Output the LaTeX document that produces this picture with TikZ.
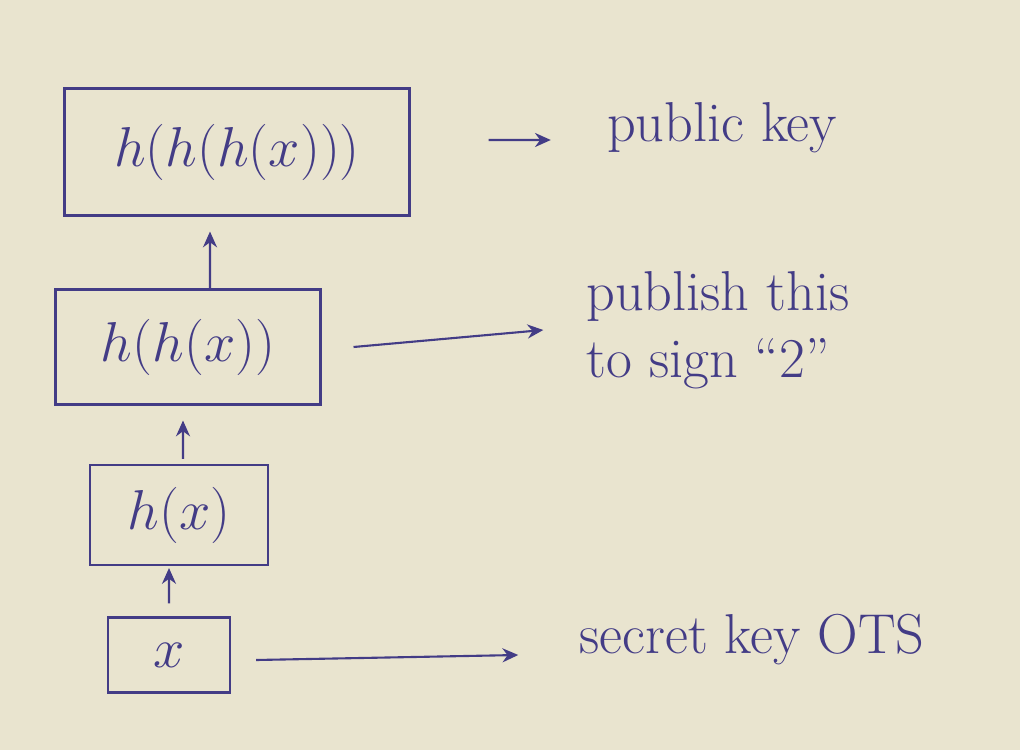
\documentclass[tikz,border=0pt]{standalone}
\usepackage{fix-cm}
\usetikzlibrary{arrows.meta}
\definecolor{paper}{HTML}{E9E4CF}
\definecolor{ink}{HTML}{433C86}
\begin{document}
\begin{tikzpicture}[x=0.02cm, y=-0.02cm,
    hashbox/.style={draw=ink, line width=1.2pt, inner sep=0pt, text=ink,
      font=\fontsize{32}{38}\selectfont},
    note/.style={text=ink, align=left, font=\fontsize{32}{38}\selectfont},
    arr/.style={draw=ink, line width=1.2pt, -{Stealth[length=9pt, width=8pt]}}]
  \fill[paper] (0, 0) rectangle (1020, 750);
  \node [hashbox, minimum width=6.9cm, minimum height=2.54cm] (b3) at (237, 152) {$h(h(h(x)))$};
  \node [hashbox, minimum width=5.3cm, minimum height=2.3cm] (b2) at (188, 347) {$h(h(x))$};
  \node [hashbox, minimum width=3.56cm, minimum height=2cm] (b1) at (179, 515) {$h(x)$};
  \node [hashbox, minimum width=2.44cm, minimum height=1.5cm] (b0) at (169, 655) {$x$};
  \node [note] (pk) at (722, 128) {public key};
  \node [note] (pub) at (718, 330) {publish this\\to sign ``2''};
  \node [note] (sk) at (752, 640) {secret key OTS};
  \draw [arr] ([xshift=1.56cm, yshift=0.24cm]b3.east) -- ([xshift=-1cm, yshift=-0.24cm]pk.west);
  \draw [arr] ([xshift=0.44cm]b2.north) -- ([xshift=-0.54cm, yshift=-0.3cm]b3.south);
  \draw [arr] ([xshift=0.08cm, yshift=0.1cm]b1.north) -- ([xshift=-0.1cm, yshift=-0.3cm]b2.south);
  \draw [arr] ([yshift=0.26cm]b0.north) -- ([xshift=-0.2cm, yshift=-0.04cm]b1.south);
  \draw [arr] ([xshift=0.64cm]b2.east) -- ([xshift=-0.74cm]pub.west);
  \draw [arr] ([xshift=0.5cm, yshift=-0.1cm]b0.east) -- ([xshift=-1.1cm, yshift=-0.3cm]sk.west);
\end{tikzpicture}
\end{document}
